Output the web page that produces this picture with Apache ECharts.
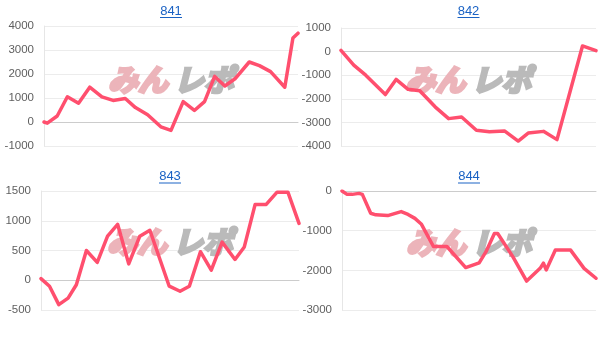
<!DOCTYPE html>
<html>
<head>
<meta charset="utf-8">
<script src="https://cdn.jsdelivr.net/npm/echarts@6/dist/echarts.min.js"></script>
<style>
html,body{margin:0;padding:0;background:#fff;}
#c{width:608px;height:340px;}
</style>
</head>
<body>
<div id="c"></div>
<script>
// Machine numbers (panel titles)
const titles = ['841', '842', '843', '844'];

// Panel 841: games played, coin difference
const games841 = [0, 65, 260, 460, 680, 900, 1140, 1360, 1600, 1800, 2040, 2300, 2500, 2740, 2960, 3160, 3360, 3560, 3760, 4040, 4240, 4460, 4740, 4900, 5000];
const diff841  = [0, -50, 250, 1050, 780, 1450, 1050, 900, 980, 600, 300, -200, -350, 850, 480, 850, 1900, 1500, 1800, 2500, 2350, 2100, 1450, 3500, 3700];

// Panel 842
const games842 = [0, 250, 485, 870, 1080, 1315, 1545, 1845, 2110, 2365, 2655, 2910, 3205, 3475, 3670, 3970, 4235, 4735, 5000];
const diff842  = [50, -570, -1000, -1820, -1180, -1600, -1660, -2340, -2840, -2770, -3330, -3400, -3360, -3790, -3450, -3380, -3730, 240, 40];

// Panel 843
const games843 = [0, 165, 345, 525, 685, 880, 1090, 1290, 1485, 1700, 1915, 2110, 2485, 2695, 2875, 3090, 3300, 3510, 3760, 3940, 4150, 4365, 4575, 4785, 5000];
const diff843  = [28, -100, -410, -300, -75, 500, 300, 740, 940, 275, 740, 840, -100, -185, -100, 480, 170, 640, 350, 560, 1275, 1275, 1480, 1480, 955];

// Panel 844
const games844 = [0, 100, 200, 335, 400, 565, 665, 900, 1165, 1300, 1435, 1565, 1800, 2065, 2435, 2700, 2835, 3000, 3065, 3365, 3635, 3900, 3965, 4020, 4200, 4500, 4765, 5000];
const diff844  = [0, -85, -85, -60, -85, -560, -600, -620, -520, -590, -690, -840, -1400, -1400, -1930, -1810, -1530, -1070, -1070, -1660, -2270, -1950, -1820, -1990, -1490, -1490, -1950, -2200];

// Y axis ranges / tick steps
const yMin = [-1000, -4000, -500, -3000];
const yMax = [4000, 1000, 1500, 0];
const yStep = [1000, 1000, 500, 1000];

const gamesList = [games841, games842, games843, games844];
const diffList = [diff841, diff842, diff843, diff844];

const grids = [
  {left: 44, top: 26, width: 254, height: 120},
  {left: 341, top: 28, width: 255, height: 118},
  {left: 41, top: 191, width: 258, height: 119},
  {left: 342, top: 191, width: 254, height: 119}
];
const titleY = [11, 11, 176.5, 176.5];
const logoY = [80, 80, 242, 243];

const lineColor = '#ff4f6e';
const font = '"Liberation Sans", Arial, sans-serif';
const logoFont = 'italic bold 30px "Noto Sans CJK JP", sans-serif';

const xAxis = [], yAxis = [], series = [], graphic = [];
grids.forEach((g, i) => {
  xAxis.push({
    type: 'value', gridIndex: i, min: 'dataMin', max: 'dataMax',
    axisLabel: {show: false}, axisTick: {show: false}, splitLine: {show: false},
    axisLine: {show: true, onZero: true, lineStyle: {color: '#cccccc', width: 1}}
  });
  yAxis.push({
    type: 'value', gridIndex: i, min: yMin[i], max: yMax[i], interval: yStep[i],
    axisLabel: {color: '#5f5f5f', fontSize: 11.5, fontFamily: font, margin: 10,
                formatter: v => String(v)},
    axisTick: {show: false},
    axisLine: {show: true, lineStyle: {color: '#e6e6e6'}},
    splitLine: {show: true, lineStyle: {color: '#ececec'}}
  });
  series.push({
    type: 'line', xAxisIndex: i, yAxisIndex: i,
    data: gamesList[i].map((x, k) => [x, diffList[i][k]]),
    showSymbol: false, symbol: 'none',
    lineStyle: {color: lineColor, width: 3.5, cap: 'round', join: 'round'},
    z: 5, silent: true
  });
  const cx = g.left + g.width / 2;
  // Title (link-style)
  graphic.push({
    type: 'text', x: cx, y: titleY[i],
    style: {text: titles[i], fill: '#1a62c4', font: '13px ' + font, align: 'center', verticalAlign: 'middle'}
  });
  graphic.push({
    type: 'rect', x: cx - 11, y: titleY[i] + 6, shape: {width: 22, height: 1},
    style: {fill: '#1a62c4'}
  });
  // Watermark logo
  graphic.push({
    type: 'text', x: cx - 3, y: logoY[i], z: 1,
    style: {text: 'みん', fill: 'rgb(236,180,186)', stroke: 'rgb(236,180,186)', lineWidth: 3,
            font: logoFont, align: 'right', verticalAlign: 'middle'}
  });
  graphic.push({
    type: 'text', x: cx + 3, y: logoY[i], z: 1,
    style: {text: 'レポ', fill: 'rgb(186,186,186)', stroke: 'rgb(186,186,186)', lineWidth: 3,
            font: logoFont, align: 'left', verticalAlign: 'middle'}
  });
});

const chart = echarts.init(document.getElementById('c'), null, {renderer: 'canvas'});
chart.setOption({
  animation: false,
  backgroundColor: '#fff',
  grid: grids.map(g => Object.assign({containLabel: false}, g)),
  xAxis, yAxis, series, graphic
});
</script>
</body>
</html>
